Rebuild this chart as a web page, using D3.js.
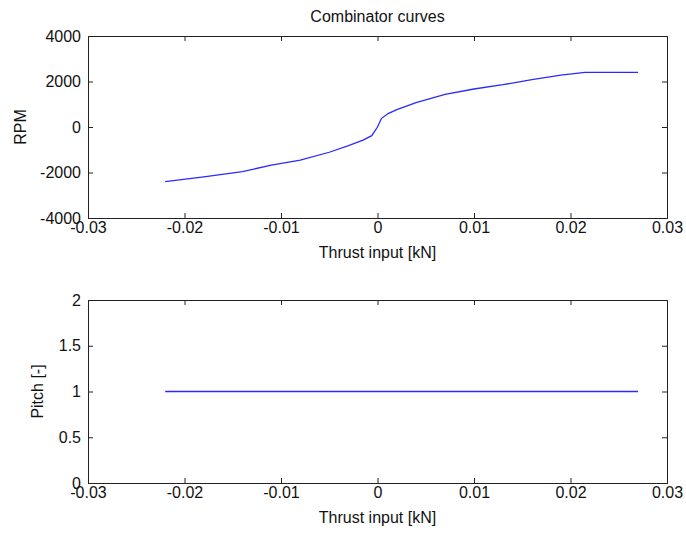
<!DOCTYPE html>
<html>
<head>
<meta charset="utf-8">
<script src="https://cdn.jsdelivr.net/npm/d3@7"></script>
<style>
  body { margin: 0; background: #fff; }
  text { font-family: "Liberation Sans", Arial, sans-serif; fill: #111; }
</style>
</head>
<body>
<div id="chart"></div>
<script>
// thrust input [kN] and the rpm
var thrust = [-0.022, -0.018, -0.014, -0.011, -0.008, -0.005, -0.003, -0.0015, -0.0006, 0, 0.0004, 0.0011, 0.002, 0.004, 0.007, 0.010, 0.013, 0.016, 0.019, 0.0215, 0.027];
var rpm = [-2400, -2190, -1960, -1680, -1460, -1110, -820, -580, -380, 0, 370, 590, 760, 1070, 1430, 1670, 1860, 2080, 2280, 2400, 2400];

// pitch is flat
var pitchThrust = [-0.022, 0.027];
var pitch = [1, 1];

var xTicks = [-0.03, -0.02, -0.01, 0, 0.01, 0.02, 0.03];
var rpmTicks = [-4000, -2000, 0, 2000, 4000];
var pitchTicks = [0, 0.5, 1, 1.5, 2];

var width = 686, height = 538;
var left = 88, right = 667;

var svg = d3.select("#chart").append("svg")
    .attr("width", width)
    .attr("height", height);

function fmt(d) { return String(+d.toFixed(2)); }

function panel(top, bottom, xs, ys, yDomain, yTicks, yLabel, yLabelX) {
    var x = d3.scaleLinear().domain([-0.03, 0.03]).range([left, right]);
    var y = d3.scaleLinear().domain(yDomain).range([bottom, top]);
    var g = svg.append("g");

    //box
    g.append("rect")
        .attr("x", left + 0.5).attr("y", top + 0.5)
        .attr("width", right - left).attr("height", bottom - top)
        .attr("fill", "none").attr("stroke", "#222").attr("stroke-width", 1);

    //bottom axis with labels
    var bx = g.append("g").attr("transform", "translate(0," + bottom + ")")
        .call(d3.axisBottom(x).tickValues(xTicks).tickFormat(fmt).tickSizeInner(-5).tickSizeOuter(0).tickPadding(4));
    //top mirrored ticks
    var tx = g.append("g").attr("transform", "translate(0," + top + ")")
        .call(d3.axisTop(x).tickValues(xTicks).tickFormat("").tickSizeInner(-5).tickSizeOuter(0));
    //left axis
    var ly = g.append("g").attr("transform", "translate(" + left + ",0)")
        .call(d3.axisLeft(y).tickValues(yTicks).tickFormat(fmt).tickSizeInner(-5).tickSizeOuter(0).tickPadding(7));
    //right mirrored ticks
    var ry = g.append("g").attr("transform", "translate(" + right + ",0)")
        .call(d3.axisRight(y).tickValues(yTicks).tickFormat("").tickSizeInner(-5).tickSizeOuter(0));

    [bx, tx, ly, ry].forEach(function (a) {
        a.select(".domain").remove();
        a.selectAll("line").attr("stroke", "#222");
        a.selectAll("text")
            .style("font-family", "Liberation Sans, Arial, sans-serif")
            .style("font-size", "16px")
            .attr("fill", "#111");
    });

    //x label
    g.append("text")
        .attr("x", (left + right) / 2)
        .attr("y", bottom + 40)
        .attr("text-anchor", "middle")
        .style("font-size", "16px")
        .text("Thrust input [kN]");

    //y label
    g.append("text")
        .attr("transform", "translate(" + yLabelX + "," + (top + bottom) / 2 + ")rotate(-90)")
        .attr("text-anchor", "middle")
        .style("font-size", "16px")
        .text(yLabel);

    var line = d3.line()
        .x(function (d) { return x(d[0]); })
        .y(function (d) { return y(d[1]); });

    g.append("path")
        .datum(d3.zip(xs, ys))
        .attr("fill", "none")
        .attr("stroke", "#2a2aff")
        .attr("stroke-width", 1.3)
        .attr("d", line);
}

panel(36, 218, thrust, rpm, [-4000, 4000], rpmTicks, "RPM", 26);
panel(300, 483, pitchThrust, pitch, [0, 2], pitchTicks, "Pitch [-]", 43);

//title
svg.append("text")
    .attr("x", (left + right) / 2)
    .attr("y", 22)
    .attr("text-anchor", "middle")
    .style("font-size", "16px")
    .text("Combinator curves");
</script>
</body>
</html>
